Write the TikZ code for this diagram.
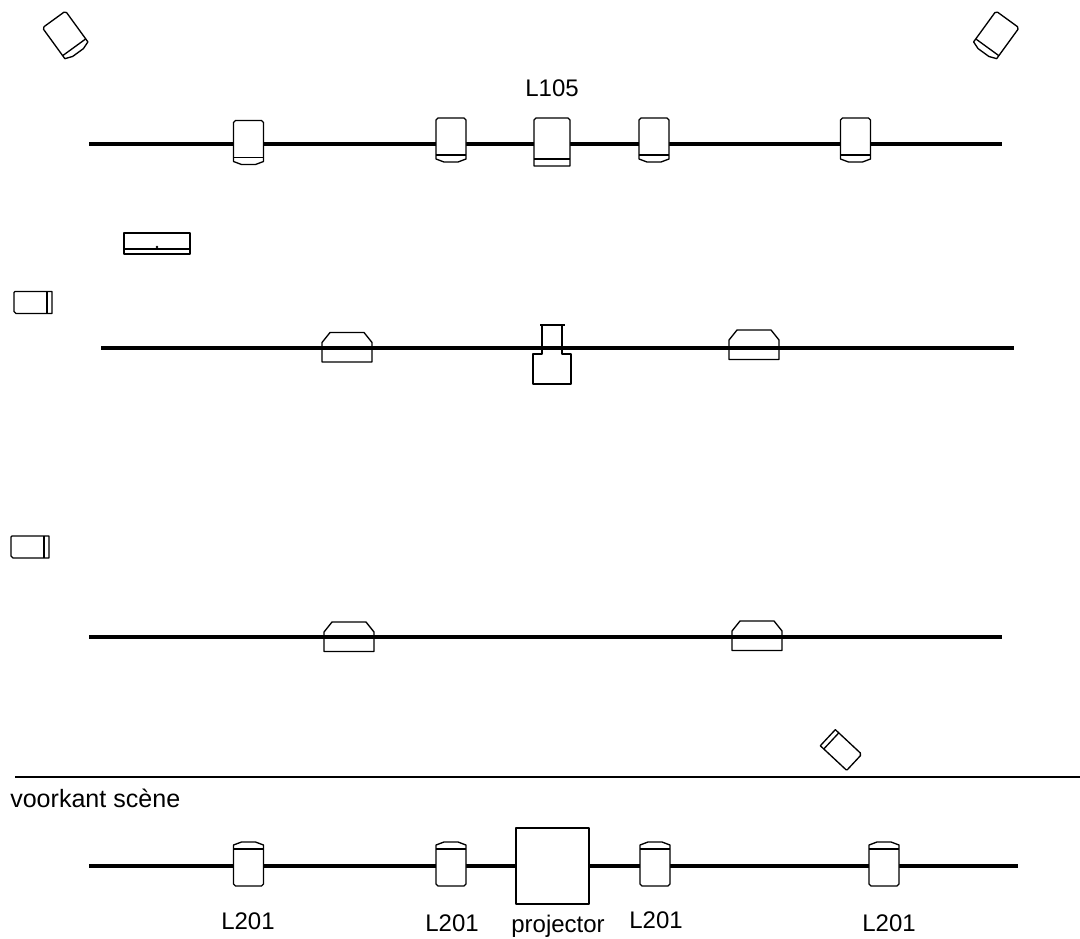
\documentclass[tikz,border=0pt]{standalone}
\usepackage{fontspec}
\setmainfont{Liberation Sans}
\tikzset{
lbl/.style={inner sep=0pt,font=\fontsize{18}{18}\selectfont},
bar/.style={line width=3pt,line cap=butt},
thin/.style={line width=1pt},
fresnel/.pic={
\draw[thin,fill=white] (-15,-20)--(-13,-22)--(13,-22)--(15,-20)--(15,19)--(7,22)--(-7,22)--(-15,19)--cycle;
\draw[thin] (-15,15)--(15,15);
},
flood/.pic={
\draw[thin] (-25,14.5)--(-25,-5)--(-17,-15)--(17,-15)--(25,-5)--(25,14.5)--cycle;
},
profile/.pic={
\draw[thin,fill=white] (-18,-11)--(-19,-10)--(-19,9)--(-17,11)--(19,11)--(19,-11)--cycle;
\draw[thin] (14,-11)--(14,11);
}
}
\begin{document}
\begin{tikzpicture}[x=0.75pt,y=-0.75pt,line join=round]
\useasboundingbox (0,0) rectangle (1080,938);
\path
(89,144) coordinate (A1) (1002,144) coordinate (B1)
(101,348) coordinate (A2) (1014,348) coordinate (B2)
(89,637) coordinate (A3) (1002,637) coordinate (B3)
(89,866) coordinate (A4) (1018,866) coordinate (B4)
(15,777) coordinate (C) (1080,777) coordinate (D)
;
\foreach \n in {1,...,4}
\draw[bar] (A\n)--(B\n);
\draw[thin] (C)--(D);
% hanging lamps
\foreach \x/\y in {248.5/142.5,451/140,654/140,855.5/140}
\path (\x,\y) pic {fresnel};
\foreach \x in {248.5,451,655,884}
\path (\x,864) pic[rotate=180] {fresnel};
\path (66,36) pic[rotate=36,xscale=.95,yscale=.93] {fresnel};
\path (995.5,36) pic[rotate=-36,xscale=.95,yscale=.93] {fresnel};
% side lights
\path (33,302.5) pic {profile};
\path (30,547) pic {profile};
\path (841,750) pic[rotate=137,xscale=.95] {profile};
% floods
\foreach \x/\y in {347/347.5,754/345,349/637,757/636}
\path (\x,\y) pic {flood};
% L105 and the rest
\draw[thin,fill=white] (534,120)--(536,118)--(568,118)--(570,120)--(570,166)--(534,166)--cycle;
\draw[thin] (534,159)--(570,159);
\draw[thin] (124,233) rectangle (190,254);
\draw[thin] (124,249)--(190,249);
\fill (157,247) circle(1pt);
\draw[thin] (540,325)--(565,325) (562,325)--(562,354)--(571,354)--(571,384)--(533,384)--(533,354)--(542,354)--(542,325);
\draw[thin,fill=white] (516,828) rectangle (589,904);
% labels
\node[lbl] (l105) at (552,88) {L105};
\node[lbl] (la) at (248,921) {L201};
\node[lbl] (lb) at (452,923) {L201};
\node[lbl] (lc) at (656,920) {L201};
\node[lbl] (ld) at (889,923) {L201};
\node[lbl,anchor=base] (proj) at (558,932) {projector};
\node[lbl,anchor=base west,font=\fontsize{18.8}{18.8}\selectfont] (front) at (10,807) {voorkant scène};
\end{tikzpicture}
\end{document}
